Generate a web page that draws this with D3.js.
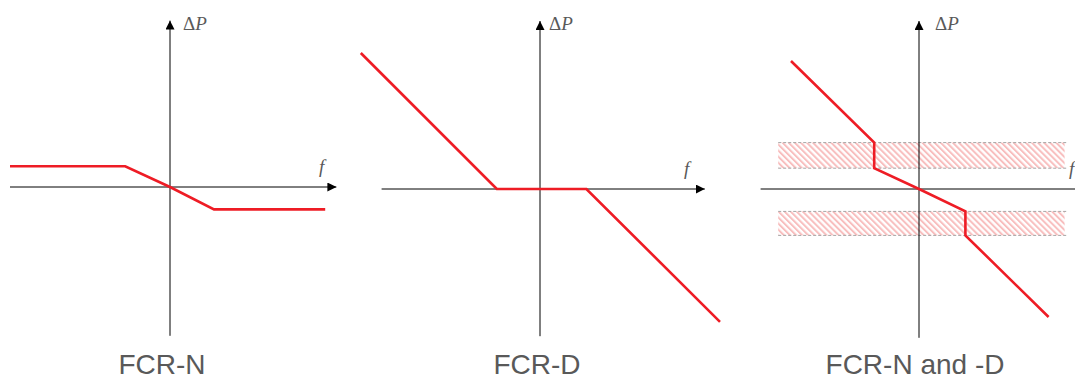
<!DOCTYPE html>
<html>
<head>
<meta charset="utf-8">
<script src="https://cdn.jsdelivr.net/npm/d3@7"></script>
<style>
  body { margin: 0; background: #fff; }
  svg { display: block; }
  .title { font-family: "Liberation Sans", Arial, sans-serif; font-size: 28px; fill: #595959; }
  .axlabel { font-family: "Liberation Serif", serif; font-size: 19px; fill: #595959; }
</style>
</head>
<body>
<div class="chart-container"></div>
<script>
// Panel titles
const titles = ["FCR-N", "FCR-D", "FCR-N and -D"];
// Response curves (f, dP) in per-unit of each panel
const fcrN = [[-1.0, 0.13], [-0.28, 0.13], [0, 0], [0.275, -0.14], [0.97, -0.14]];
const fcrD = [[-1.12, 0.85], [-0.27, 0], [0.29, 0], [1.125, -0.83]];
const fcrND = [[-0.8, 0.8], [-0.28, 0.29], [-0.28, 0.13], [0, 0], [0.29, -0.14], [0.29, -0.29], [0.81, -0.8]];
const curves = [fcrN, fcrD, fcrND];
// Axis extents: [fMin, fMax, dPMin, dPMax]
const axisExt = [[-1.0, 1.04, -0.93, 1.04], [-0.99, 1.03, -0.92, 1.05], [-0.99, 1.1, -0.93, 1.05]];
// FCR-N band limits in combined panel (dP ranges), and f extent
const bands = [[0.13, 0.29], [-0.29, -0.14]];
const bandF = [-0.88, 0.91];

const width = 1075, height = 381;
const svg = d3.select('.chart-container').append('svg')
  .attr("width", width).attr("height", height);

// Layout
const centers = [[170, 187], [540, 189], [919, 189]];
const unit = 160;
const dpLabelOff = [13, 9, 16];
const fLabelOff = [149, 144, 150];
const red = "#ee1c25";

// Hatch pattern
const defs = svg.append("defs");
const pat = defs.append("pattern")
  .attr("id", "hatch")
  .attr("patternUnits", "userSpaceOnUse")
  .attr("width", 4.3).attr("height", 4.3)
  .attr("patternTransform", "rotate(-45)");
pat.append("line")
  .attr("x1", 1).attr("y1", 0).attr("x2", 1).attr("y2", 4.3)
  .attr("stroke", "#f8bebe").attr("stroke-width", 2);

defs.append("marker")
  .attr("id", "arrow")
  .attr("viewBox", "0 0 10 10")
  .attr("refX", 10).attr("refY", 5)
  .attr("markerWidth", 9).attr("markerHeight", 9)
  .attr("markerUnits", "userSpaceOnUse")
  .attr("orient", "auto")
  .append("path")
  .attr("d", "M0,0 L10,5 L0,10 Z")
  .attr("fill", "#000");

titles.forEach((t, i) => {
  const [cx, cy] = centers[i];
  const x = d3.scaleLinear().domain([0, 1]).range([cx, cx + unit]);
  const y = d3.scaleLinear().domain([0, 1]).range([cy, cy - unit]);
  const ext = axisExt[i];
  const g = svg.append("g");

  // hatched bands (combined panel only)
  if (i === 2) {
    bands.forEach(b => {
      g.append("rect")
        .attr("x", x(bandF[0]))
        .attr("y", y(b[1]))
        .attr("width", x(bandF[1]) - x(bandF[0]))
        .attr("height", y(b[0]) - y(b[1]))
        .attr("fill", "url(#hatch)");
      b.forEach(v => {
        g.append("line")
          .attr("x1", x(bandF[0])).attr("x2", x(bandF[1]) + 3)
          .attr("y1", y(v)).attr("y2", y(v))
          .attr("stroke", "#a6a6a6")
          .attr("stroke-width", 1)
          .attr("stroke-dasharray", "3,2");
      });
    });
  }

  // axes
  g.append("line")
    .attr("x1", x(ext[0])).attr("x2", x(ext[1]))
    .attr("y1", y(0)).attr("y2", y(0))
    .attr("stroke", "#000").attr("stroke-width", 1)
    .attr("marker-end", "url(#arrow)");
  g.append("line")
    .attr("x1", x(0)).attr("x2", x(0))
    .attr("y1", y(ext[2])).attr("y2", y(ext[3]))
    .attr("stroke", "#000").attr("stroke-width", 1)
    .attr("marker-end", "url(#arrow)");

  // axis labels
  const dp = g.append("text").attr("class", "axlabel")
    .attr("x", cx + dpLabelOff[i]).attr("y", 30);
  dp.append("tspan").text("\u0394");
  dp.append("tspan").attr("font-style", "italic").text("P");
  g.append("text").attr("class", "axlabel")
    .attr("font-style", "italic")
    .attr("x", cx + fLabelOff[i]).attr("y", cy - 14)
    .text("f");

  // response curve
  const line = d3.line().x(d => x(d[0])).y(d => y(d[1]));
  g.append("path")
    .datum(curves[i])
    .attr("d", line)
    .attr("fill", "none")
    .attr("stroke", red)
    .attr("stroke-width", 2.6)
    .attr("stroke-linejoin", "miter");

  // title
  g.append("text").attr("class", "title")
    .attr("x", cx - 8 + (i === 0 ? 0 : (i === 1 ? 5 : 4)))
    .attr("y", 374)
    .attr("text-anchor", "middle")
    .text(t);
});
</script>
</body>
</html>
